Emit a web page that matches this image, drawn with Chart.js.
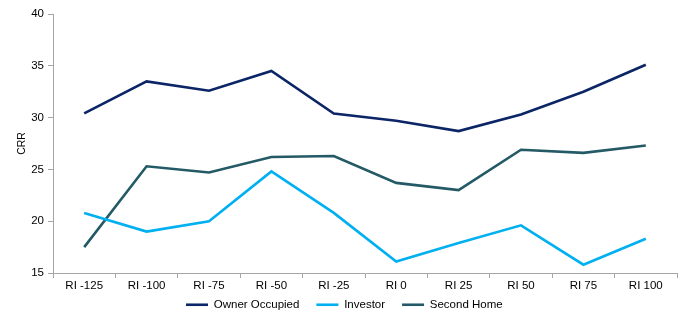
<!DOCTYPE html>
<html>
<head>
<meta charset="utf-8">
<script src="https://cdn.jsdelivr.net/npm/chart.js@4/dist/chart.umd.min.js"></script>
<style>
html,body{margin:0;padding:0;background:#fff;}
#wrap{width:692px;height:327px;position:relative;}
</style>
</head>
<body>
<div id="wrap"><canvas id="c" width="692" height="327"></canvas></div>
<script>
const categories = ["RI -125","RI -100","RI -75","RI -50","RI -25","RI 0","RI 25","RI 50","RI 75","RI 100"];
const ownerOccupied = [30.4, 33.5, 32.6, 34.5, 30.4, 29.7, 28.7, 30.3, 32.5, 35.1];
const investor = [20.8, 19.0, 20.0, 24.8, 20.8, 16.1, 17.9, 19.6, 15.8, 18.3];
const secondHome = [17.5, 25.3, 24.7, 26.2, 26.3, 23.7, 23.0, 26.9, 26.6, 27.3];
const yTicks = [15, 20, 25, 30, 35, 40];

Chart.defaults.font.family = "'Liberation Sans', Arial, sans-serif";
Chart.defaults.font.size = 11.5;
Chart.defaults.color = '#000';

const legendShift = {
  id: 'legendShift',
  afterInit(chart) {
    const lg = chart.legend;
    if (lg) {
      const orig = lg.fit.bind(lg);
      lg.fit = function () { orig(); this.height = 31; };
    }
  },
  afterLayout(chart) {
    const lg = chart.legend;
    if (lg) {
      lg.left = 169;
      lg.top = 282;
      lg.bottom = 313;
    }
  }
};

new Chart(document.getElementById('c'), {
  type: 'line',
  data: {
    labels: categories,
    datasets: [
      {label: 'Owner Occupied', data: ownerOccupied, borderColor: '#0b2566', backgroundColor: '#0b2566'},
      {label: 'Investor', data: investor, borderColor: '#00b0f0', backgroundColor: '#00b0f0'},
      {label: 'Second Home', data: secondHome, borderColor: '#245a66', backgroundColor: '#245a66'}
    ].map(d => Object.assign(d, {borderWidth: 2.6, pointRadius: 0, tension: 0, fill: false}))
  },
  plugins: [legendShift],
  options: {
    responsive: false,
    animation: false,
    layout: {padding: {left: 0, right: 15, top: 14, bottom: 0}},
    plugins: {
      legend: {
        position: 'bottom',
        align: 'start',
        labels: {
          usePointStyle: true,
          pointStyle: 'line',
          pointStyleWidth: 22,
          boxHeight: 3,
          padding: 17,
          font: {size: 11.5},
          color: '#000'
        }
      },
      tooltip: {enabled: false}
    },
    scales: {
      x: {
        offset: true,
        grid: {display: true, drawOnChartArea: false, drawTicks: true, tickLength: 5, color: '#a6a6a6', offset: true},
        border: {color: '#a6a6a6', width: 1},
        ticks: {padding: 1, maxRotation: 0, autoSkip: false, font: {size: 11.5}},
        afterFit: s => { s.height = 23; }
      },
      y: {
        min: 15, max: 40,
        afterBuildTicks: s => { s.ticks = yTicks.map(v => ({value: v})); },
        grid: {display: true, drawOnChartArea: false, drawTicks: true, tickLength: 5, color: '#a6a6a6'},
        border: {color: '#a6a6a6', width: 1},
        ticks: {padding: 4, font: {size: 11.5}},
        title: {display: true, text: 'CRR', font: {size: 10.5}, color: '#000', padding: {top: 16, bottom: 0}},
        afterFit: s => { s.width = 53; }
      }
    }
  }
});
</script>
</body>
</html>
